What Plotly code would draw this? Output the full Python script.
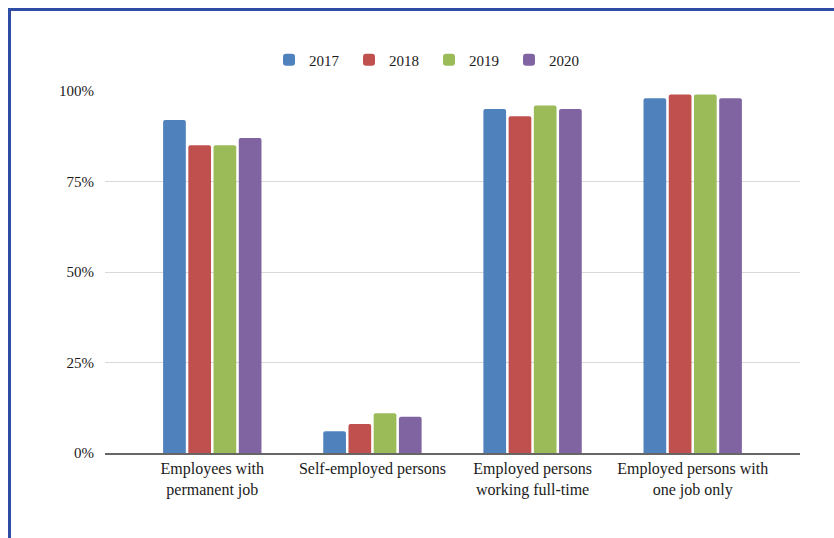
import plotly.graph_objects as go

# Share of employed persons by job characteristic, 2017-2020
categories = [
    "Employees with<br>permanent job",
    "Self-employed persons",
    "Employed persons<br>working full-time",
    "Employed persons with<br>one job only",
]
years = ["2017", "2018", "2019", "2020"]
values_2017 = [92, 6, 95, 98]
values_2018 = [85, 8, 93, 99]
values_2019 = [85, 11, 96, 99]
values_2020 = [87, 10, 95, 98]
series = [values_2017, values_2018, values_2019, values_2020]
colors = ["#4F81BD", "#C0504D", "#9BBB59", "#8064A2"]

y_ticks = [0, 25, 50, 75, 100]
y_tick_labels = ["0%", "25%", "50%", "75%", "100%"]

serif = "Liberation Serif, Times New Roman, serif"

fig = go.Figure()
for year, vals, col in zip(years, series, colors):
    fig.add_trace(go.Bar(
        x=list(range(len(categories))),
        y=vals,
        name=year,
        marker=dict(color=col, line=dict(width=0)),
    ))

W, H = 834, 538
L, R, T, B = 105, 34, 91, 85
pw, ph = W - L - R, H - T - B


def px_x(p):
    return (p - L) / pw


def px_y(p):
    return (H - B - p) / ph


fig.update_layout(
    width=W,
    height=H,
    margin=dict(l=L, r=R, t=T, b=B),
    paper_bgcolor="white",
    plot_bgcolor="white",
    barmode="group",
    bargap=0.37,
    bargroupgap=0.1,
    barcornerradius=2,
    font=dict(family=serif, color="#1a1a1a", size=15),
    legend=dict(
        orientation="h",
        x=px_x(429),
        y=px_y(60),
        xanchor="center",
        yanchor="middle",
        font=dict(family=serif, size=15, color="#1a1a1a"),
        traceorder="normal",
        itemwidth=30,
        entrywidth=35,
    ),
    xaxis=dict(
        tickmode="array",
        tickvals=list(range(len(categories))),
        ticktext=categories,
        range=[-0.67, 3.67],
        showgrid=False,
        showline=True,
        linecolor="#666666",
        linewidth=2,
        ticks="",
        tickfont=dict(family=serif, size=16, color="#1a1a1a"),
        fixedrange=True,
    ),
    yaxis=dict(
        range=[0, 100],
        tickmode="array",
        tickvals=y_ticks,
        ticktext=y_tick_labels,
        showgrid=True,
        gridcolor="#D9D9D9",
        gridwidth=1,
        zeroline=False,
        showline=False,
        ticks="",
        ticklabelstandoff=10,
        tickfont=dict(family=serif, size=15, color="#1a1a1a"),
        fixedrange=True,
    ),
    shapes=[
        dict(
            type="rect",
            xref="paper",
            yref="paper",
            x0=px_x(9.5),
            x1=px_x(W + 40),
            y0=px_y(H + 40),
            y1=px_y(9.5),
            line=dict(color="#2F4DA5", width=3),
            fillcolor="rgba(0,0,0,0)",
            layer="above",
        )
    ],
)

fig.write_html("out.html")
